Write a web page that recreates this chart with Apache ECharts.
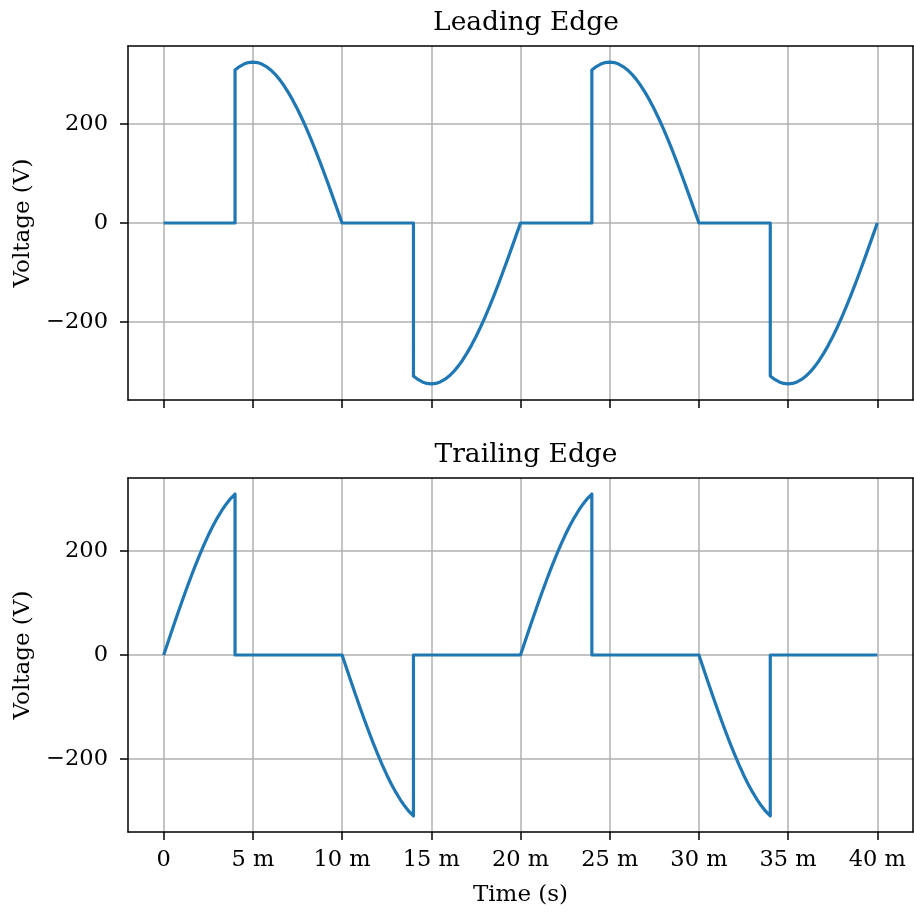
<!DOCTYPE html>
<html>
<head>
<meta charset="utf-8">
<script src="https://cdn.jsdelivr.net/npm/echarts@6/dist/echarts.min.js"></script>
<style>html,body{margin:0;padding:0;background:#fff}#c{width:914px;height:913px}</style>
</head>
<body>
<div id="c"></div>
<script>
// Time in milliseconds, voltage in volts
var leadingTime = [0,
  4, 4, 4.25, 4.5, 4.75, 5, 5.25, 5.5, 5.75, 6, 6.25, 6.5, 6.75, 7, 7.25, 7.5, 7.75, 8, 8.25, 8.5, 8.75, 9, 9.25, 9.5, 9.75, 10,
  14, 14, 14.25, 14.5, 14.75, 15, 15.25, 15.5, 15.75, 16, 16.25, 16.5, 16.75, 17, 17.25, 17.5, 17.75, 18, 18.25, 18.5, 18.75, 19, 19.25, 19.5, 19.75, 20,
  24, 24, 24.25, 24.5, 24.75, 25, 25.25, 25.5, 25.75, 26, 26.25, 26.5, 26.75, 27, 27.25, 27.5, 27.75, 28, 28.25, 28.5, 28.75, 29, 29.25, 29.5, 29.75, 30,
  34, 34, 34.25, 34.5, 34.75, 35, 35.25, 35.5, 35.75, 36, 36.25, 36.5, 36.75, 37, 37.25, 37.5, 37.75, 38, 38.25, 38.5, 38.75, 39, 39.25, 39.5, 39.75, 40];
var leadingVolt = [0,
  0, 309.1, 316.0, 321.0, 324.0, 325, 324.0, 321.0, 316.0, 309.1, 300.3, 289.6, 277.1, 262.9, 247.1, 229.8, 211.1, 191.0, 169.8, 147.5, 124.4, 100.4, 75.9, 50.8, 25.5, 0,
  0, -309.1, -316.0, -321.0, -324.0, -325, -324.0, -321.0, -316.0, -309.1, -300.3, -289.6, -277.1, -262.9, -247.1, -229.8, -211.1, -191.0, -169.8, -147.5, -124.4, -100.4, -75.9, -50.8, -25.5, 0,
  0, 309.1, 316.0, 321.0, 324.0, 325, 324.0, 321.0, 316.0, 309.1, 300.3, 289.6, 277.1, 262.9, 247.1, 229.8, 211.1, 191.0, 169.8, 147.5, 124.4, 100.4, 75.9, 50.8, 25.5, 0,
  0, -309.1, -316.0, -321.0, -324.0, -325, -324.0, -321.0, -316.0, -309.1, -300.3, -289.6, -277.1, -262.9, -247.1, -229.8, -211.1, -191.0, -169.8, -147.5, -124.4, -100.4, -75.9, -50.8, -25.5, 0];
var trailingTime = [
  0, 0.25, 0.5, 0.75, 1, 1.25, 1.5, 1.75, 2, 2.25, 2.5, 2.75, 3, 3.25, 3.5, 3.75, 4, 4,
  10, 10.25, 10.5, 10.75, 11, 11.25, 11.5, 11.75, 12, 12.25, 12.5, 12.75, 13, 13.25, 13.5, 13.75, 14, 14,
  20, 20.25, 20.5, 20.75, 21, 21.25, 21.5, 21.75, 22, 22.25, 22.5, 22.75, 23, 23.25, 23.5, 23.75, 24, 24,
  30, 30.25, 30.5, 30.75, 31, 31.25, 31.5, 31.75, 32, 32.25, 32.5, 32.75, 33, 33.25, 33.5, 33.75, 34, 34,
  40];
var trailingVolt = [
  0, 25.5, 50.8, 75.9, 100.4, 124.4, 147.5, 169.8, 191.0, 211.1, 229.8, 247.1, 262.9, 277.1, 289.6, 300.3, 309.1, 0,
  0, -25.5, -50.8, -75.9, -100.4, -124.4, -147.5, -169.8, -191.0, -211.1, -229.8, -247.1, -262.9, -277.1, -289.6, -300.3, -309.1, 0,
  0, 25.5, 50.8, 75.9, 100.4, 124.4, 147.5, 169.8, 191.0, 211.1, 229.8, 247.1, 262.9, 277.1, 289.6, 300.3, 309.1, 0,
  0, -25.5, -50.8, -75.9, -100.4, -124.4, -147.5, -169.8, -191.0, -211.1, -229.8, -247.1, -262.9, -277.1, -289.6, -300.3, -309.1, 0,
  0];
var xTicks = [0, 5, 10, 15, 20, 25, 30, 35, 40];
var yTicks = [-200, 0, 200];
var titles = ['Leading Edge', 'Trailing Edge'];

var FONT = 'DejaVu Serif';
function pairs(t, v) { return t.map(function (x, i) { return [x, v[i]]; }); }
var xMin = -2, xMax = 42;
var yRanges = [[-357.5, 357.5], [-339.9, 339.9]];
var grids = [{left: 128, top: 46, width: 785, height: 354}, {left: 128, top: 478, width: 785, height: 354}];

function mainX(i) {
  return {
    type: 'value', gridIndex: i, min: xMin, max: xMax, position: 'bottom',
    name: i === 1 ? 'Time (s)' : '', nameLocation: 'middle', nameGap: 52,
    nameTextStyle: {fontFamily: FONT, fontSize: 23, color: '#000'},
    axisLine: {show: true, onZero: false, lineStyle: {color: '#000', width: 1.5}},
    axisTick: {show: true, length: 8, lineStyle: {color: '#000', width: 1.5}, customValues: xTicks},
    axisLabel: {show: i === 1, customValues: xTicks, margin: 17, fontFamily: FONT, fontSize: 22.5, color: '#000',
      formatter: function (v) { return v === 0 ? '0' : v + ' m'; }},
    splitLine: {show: true, lineStyle: {color: '#b0b0b0', width: 1.5}}
  };
}
function frameX(i) {
  return {type: 'value', gridIndex: i, min: xMin, max: xMax, position: 'top',
    axisLine: {show: true, onZero: false, lineStyle: {color: '#000', width: 1.5}},
    axisTick: {show: false}, axisLabel: {show: false}, splitLine: {show: false}};
}
function mainY(i) {
  return {
    type: 'value', gridIndex: i, min: yRanges[i][0], max: yRanges[i][1], position: 'left',
    name: 'Voltage (V)', nameLocation: 'middle', nameGap: 93, nameRotate: 90,
    nameTextStyle: {fontFamily: FONT, fontSize: 23, color: '#000'},
    axisLine: {show: true, onZero: false, lineStyle: {color: '#000', width: 1.5}},
    axisTick: {show: true, length: 8, lineStyle: {color: '#000', width: 1.5}, customValues: yTicks},
    axisLabel: {show: true, customValues: yTicks, margin: 20, fontFamily: FONT, fontSize: 22.5, color: '#000',
      formatter: function (v) { return String(v).replace('-', '\u2212'); }},
    splitLine: {show: true, lineStyle: {color: '#b0b0b0', width: 1.5}}
  };
}
function frameY(i) {
  return {type: 'value', gridIndex: i, min: yRanges[i][0], max: yRanges[i][1], position: 'right',
    axisLine: {show: true, onZero: false, lineStyle: {color: '#000', width: 1.5}},
    axisTick: {show: false}, axisLabel: {show: false}, splitLine: {show: false}};
}

var chart = echarts.init(document.getElementById('c'), null, {renderer: 'canvas'});
chart.setOption({
  animation: false,
  backgroundColor: '#fff',
  title: [
    {text: titles[0], left: 521, top: 5, textAlign: 'center', textStyle: {fontFamily: FONT, fontSize: 26.5, fontWeight: 'normal', color: '#000'}},
    {text: titles[1], left: 521, top: 437, textAlign: 'center', textStyle: {fontFamily: FONT, fontSize: 26.5, fontWeight: 'normal', color: '#000'}}
  ],
  grid: grids,
  xAxis: [mainX(0), mainX(1), frameX(0), frameX(1)],
  yAxis: [mainY(0), mainY(1), frameY(0), frameY(1)],
  series: [
    {type: 'line', xAxisIndex: 0, yAxisIndex: 0, data: pairs(leadingTime, leadingVolt), showSymbol: false,
      lineStyle: {color: '#1f77b4', width: 3.2, join: 'round'}, clip: false},
    {type: 'line', xAxisIndex: 1, yAxisIndex: 1, data: pairs(trailingTime, trailingVolt), showSymbol: false,
      lineStyle: {color: '#1f77b4', width: 3.2, join: 'round'}, clip: false}
  ]
});
</script>
</body>
</html>
